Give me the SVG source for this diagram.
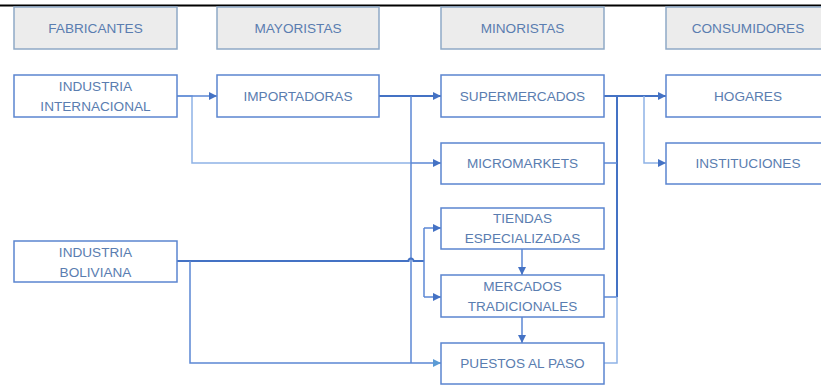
<svg xmlns="http://www.w3.org/2000/svg" width="821" height="385" viewBox="0 0 821 385">
<defs>
<style>
.hdr rect{fill:#ececec;stroke:#8fa9c6;stroke-width:1.5}
.nd rect{fill:#fff;stroke:#5b85d0;stroke-width:1.5}
text{font-family:"Liberation Sans",Arial,sans-serif;font-size:13.6px;fill:#5a7db0;text-anchor:middle}
.c{fill:none;stroke-width:1.5}
.dk{stroke:#4472c4;stroke-width:2}
.md{stroke:#5b87d4}
.lt{stroke:#8fb3e6}
</style>
<marker id="ar" viewBox="0 0 10 10" refX="10" refY="5" markerWidth="8" markerHeight="8" markerUnits="userSpaceOnUse" orient="auto"><path d="M0,0L10,5L0,10z" fill="#4472c4"/></marker>
<marker id="arl" viewBox="0 0 10 10" refX="10" refY="5" markerWidth="8" markerHeight="8" markerUnits="userSpaceOnUse" orient="auto"><path d="M0,0L10,5L0,10z" fill="#5b9bd5"/></marker>
</defs>
<rect width="821" height="385" fill="#fff"/>
<line x1="0" y1="5.5" x2="821" y2="5.5" stroke="#000" stroke-width="2"/>

<g id="connectors">
<path class="c lt" d="M177,96H192V163H411"/>
<path class="c md" d="M177,96H217" marker-end="url(#ar)"/>
<path class="c dk" d="M379,96H441" marker-end="url(#ar)"/>
<path class="c md" d="M411,96V363"/>
<path class="c md" d="M411,163H441" marker-end="url(#ar)"/>
<path class="c dk" d="M177,261H408.5a2.5,2.5 0 0 1 5,0H424"/>
<path class="c md" d="M424,228V297"/>
<path class="c md" d="M424,228H441" marker-end="url(#ar)"/>
<path class="c md" d="M424,297H441" marker-end="url(#ar)"/>
<path class="c md" d="M190,261V363H441" marker-end="url(#arl)"/>
<path class="c md" d="M522,249V275" marker-end="url(#ar)"/>
<path class="c md" d="M522,317V343" marker-end="url(#ar)"/>
<path class="c dk" d="M604,96H666" marker-end="url(#ar)"/>
<path class="c dk" d="M617,96V297"/>
<path class="c md" d="M604,163H617"/>
<path class="c md" d="M604,297H617"/>
<path class="c lt" d="M604,363H617V297"/>
<path class="c lt" d="M644,96V163H666" marker-end="url(#ar)"/>
</g>

<g id="h-fabricantes" class="hdr"><rect x="14" y="7" width="163" height="42"/><text x="95.5" y="33">FABRICANTES</text></g>
<g id="h-mayoristas" class="hdr"><rect x="217" y="7" width="162" height="42"/><text x="298" y="33">MAYORISTAS</text></g>
<g id="h-minoristas" class="hdr"><rect x="441" y="7" width="163" height="42"/><text x="522.5" y="33">MINORISTAS</text></g>
<g id="h-consumidores" class="hdr"><rect x="666" y="7" width="163" height="42"/><text x="748" y="33">CONSUMIDORES</text></g>

<g id="n-internacional" class="nd"><rect x="14" y="75" width="163" height="42"/><text x="95.5" y="91">INDUSTRIA</text><text x="95.5" y="111">INTERNACIONAL</text></g>
<g id="n-importadoras" class="nd"><rect x="217" y="75" width="162" height="42"/><text x="298" y="101">IMPORTADORAS</text></g>
<g id="n-supermercados" class="nd"><rect x="441" y="75" width="163" height="42"/><text x="522.5" y="101">SUPERMERCADOS</text></g>
<g id="n-hogares" class="nd"><rect x="666" y="75" width="163" height="42"/><text x="748" y="101">HOGARES</text></g>
<g id="n-micromarkets" class="nd"><rect x="441" y="143" width="163" height="41"/><text x="522.5" y="168">MICROMARKETS</text></g>
<g id="n-instituciones" class="nd"><rect x="666" y="143" width="163" height="41"/><text x="748" y="168">INSTITUCIONES</text></g>
<g id="n-tiendas" class="nd"><rect x="441" y="208" width="163" height="41"/><text x="522.5" y="223">TIENDAS</text><text x="522.5" y="243">ESPECIALIZADAS</text></g>
<g id="n-boliviana" class="nd"><rect x="14" y="241" width="163" height="41"/><text x="95.5" y="257">INDUSTRIA</text><text x="95.5" y="277">BOLIVIANA</text></g>
<g id="n-mercados" class="nd"><rect x="441" y="275" width="163" height="42"/><text x="522.5" y="291">MERCADOS</text><text x="522.5" y="311">TRADICIONALES</text></g>
<g id="n-puestos" class="nd"><rect x="441" y="343" width="163" height="41"/><text x="522.5" y="368">PUESTOS AL PASO</text></g>
</svg>
